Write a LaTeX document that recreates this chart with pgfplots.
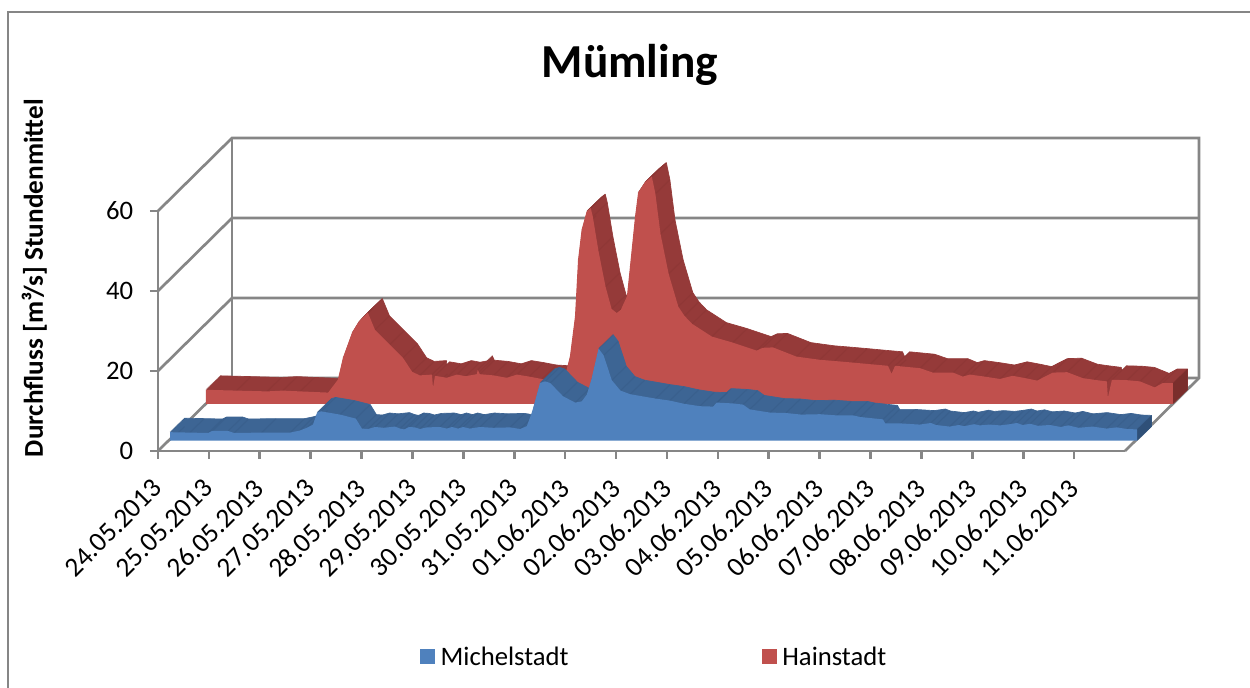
\documentclass[border=0pt]{standalone}
\usepackage{fontspec}
\setmainfont{Carlito}
\usepackage{pgfplots}
\usepackage{pgfplotstable}
\pgfplotsset{compat=1.18}

\definecolor{gridc}{HTML}{868686}
\definecolor{redface}{HTML}{C0504D}
\definecolor{redband}{HTML}{953A39}
\definecolor{redcap}{HTML}{7A2E2C}
\definecolor{blueface}{HTML}{4F81BD}
\definecolor{blueband}{HTML}{3D6594}
\definecolor{bluecap}{HTML}{2F5078}

% hourly means, read off the front edge of each area
\pgfplotstableread{
d q
0.00 0
0.00 2.1
0.39 2.0
0.75 1.9
0.83 2.4
1.14 2.4
1.26 1.9
1.80 2.0
2.36 2.0
2.55 2.5
2.69 3.2
2.81 4.0
2.89 7.0
2.97 7.3
3.34 6.5
3.65 5.5
3.77 3.0
3.89 2.9
4.03 3.4
4.20 3.2
4.42 3.5
4.52 3.0
4.60 2.8
4.70 3.4
4.81 3.3
4.91 2.9
5.05 3.3
5.30 3.4
5.44 3.0
5.54 3.4
5.66 3.0
5.76 3.4
5.89 3.0
6.09 3.4
6.35 3.2
6.68 3.3
6.88 2.9
7.01 3.6
7.11 7.0
7.27 14.4
7.37 14.8
7.47 14.4
7.72 11.1
7.96 9.5
8.09 9.8
8.19 11.5
8.28 15.3
8.42 23.0
8.52 21.3
8.68 15.1
8.85 12.5
9.04 11.6
9.54 10.5
9.82 10.0
10.10 9.2
10.41 8.6
10.67 8.5
10.74 9.5
11.05 9.3
11.26 9.0
11.39 7.8
11.79 7.0
12.10 6.9
12.40 6.5
12.77 6.6
13.10 6.3
13.42 6.3
13.56 5.9
14.01 5.3
14.05 4.3
14.35 4.3
14.73 4.0
14.95 4.4
15.05 3.9
15.32 3.5
15.50 3.9
15.60 3.6
15.80 4.1
15.91 3.8
16.10 4.0
16.31 3.8
16.50 4.1
16.64 4.4
16.75 3.9
16.90 4.2
17.05 3.7
17.29 3.9
17.50 3.4
17.65 3.8
17.85 3.2
18.13 3.5
18.40 3.0
18.60 3.3
18.80 2.9
19.00 2.8
19.00 0
}\michelstadt

\pgfplotstableread{
d q
0.00 0
0.00 3.5
0.60 3.3
1.20 3.1
1.51 3.3
1.85 3.1
2.40 2.8
2.59 6.0
2.69 11.5
2.87 17.8
2.99 20.3
3.18 22.8
3.32 18.5
3.61 14.8
3.87 11.5
4.05 8.0
4.20 7.1
4.44 7.3
4.46 4.0
4.50 7.0
4.73 6.5
4.93 7.3
5.10 6.9
5.32 7.4
5.34 8.5
5.38 7.4
5.65 7.1
5.91 6.5
6.11 7.3
6.35 6.8
6.60 6.2
6.86 6.0
7.01 6.0
7.05 6.8
7.15 11.8
7.25 21.8
7.31 36.0
7.38 43.5
7.48 48.1
7.56 48.9
7.60 46.8
7.71 38.3
7.85 29.3
7.97 23.7
8.07 22.7
8.15 23.5
8.27 26.8
8.33 34.3
8.43 46.8
8.49 52.8
8.62 55.3
8.76 56.8
8.83 52.5
8.93 42.5
9.09 32.5
9.28 24.3
9.40 22.0
9.55 20.0
9.94 16.8
10.35 15.3
10.82 13.3
10.94 14.0
11.14 14.1
11.60 11.8
12.06 11.0
12.35 10.7
12.71 10.3
13.05 9.9
13.40 9.5
13.47 7.5
13.54 9.5
14.03 8.9
14.28 7.8
14.68 7.8
14.87 6.8
15.01 7.3
15.30 6.8
15.60 6.2
15.85 7.0
16.10 6.4
16.33 5.8
16.64 7.8
16.92 7.9
17.23 6.4
17.45 6.0
17.70 5.6
17.72 1.5
17.80 6.0
18.10 5.9
18.35 5.6
18.64 4.1
18.80 5.2
19.00 5.2
19.00 0
}\hainstadt

\begin{document}
\begin{tikzpicture}
\path[use as bounding box] (-118.5pt,-177.75pt) rectangle (819pt,338.25pt);
\draw[gridc,line width=1.1pt] (-112.5pt,-177.75pt) -- (-112.5pt,329.25pt) -- (819pt,329.25pt);
\begin{axis}[
    scale only axis,
    width=725.25pt, height=180pt,
    xmin=0, xmax=19, ymin=0, ymax=60,
    clip=false,
    axis x line=bottom, axis y line=left,
    axis line style={-,draw=gridc,line width=2pt},
    tick style={draw=gridc,line width=2pt},
    tick align=outside,
    major tick length=6pt,
    xtick={0,...,18},
    xticklabels={24.05.2013,25.05.2013,26.05.2013,27.05.2013,28.05.2013,29.05.2013,30.05.2013,31.05.2013,01.06.2013,02.06.2013,03.06.2013,04.06.2013,05.06.2013,06.06.2013,07.06.2013,08.06.2013,09.06.2013,10.06.2013,11.06.2013},
    ytick={0,20,40,60},
    xticklabel style={rotate=45,anchor=north east,font=\fontsize{20.5}{20.5}\selectfont,inner sep=1pt,yshift=-4.8pt,xshift=-12.4pt},
    yticklabel style={font=\fontsize{20}{20}\selectfont,/pgf/number format/assume math mode=true,inner sep=2pt,xshift=-10.5pt},
    title={Mümling},
    title style={at={(0.488,1.574)},anchor=center,font=\fontsize{35.5}{36}\selectfont\bfseries},
    ylabel={Durchfluss [m³/s] Stundenmittel},
    ylabel style={at={(-0.128,0.72)},anchor=center,font=\fontsize{20.4}{21}\selectfont\bfseries},
    legend style={at={(0.271,-0.858)},anchor=west,draw=none,fill=none,inner sep=0pt,
        font=\fontsize{20}{20}\selectfont,legend columns=2,
        /tikz/every even column/.append style={column sep=143pt}},
    legend image code/.code={\fill[#1] (0pt,-5.6pt) rectangle (11.25pt,5.6pt);},
]
\addlegendimage{fill=blueface,draw=none}
\addlegendentry{\hspace{2pt}Michelstadt}
\addlegendimage{fill=redface,draw=none}
\addlegendentry{\hspace{2pt}Hainstadt}

% walls of the box
\addplot[forget plot,gridc,line width=2pt] coordinates {(0,60) (1.4538,78.25) (20.4538,78.25) (20.4538,18.25) (19,0)};
\addplot[forget plot,gridc,line width=2pt] coordinates {(0,0) (1.4538,18.25) (20.4538,18.25)};
\addplot[forget plot,gridc,line width=2pt] coordinates {(1.4538,18.25) (1.4538,78.25)};
\addplot[forget plot,gridc,line width=2pt] coordinates {(0,20) (1.4538,38.25) (20.4538,38.25)};
\addplot[forget plot,gridc,line width=2pt] coordinates {(0,40) (1.4538,58.25) (20.4538,58.25)};

% Hainstadt: depth band as shifted copies, back to front
\pgfplotsinvokeforeach{15,14,...,1}{
  \addplot[forget plot,fill=redband,draw=redband,line width=0.5pt,line join=round]
    table[x expr=\thisrow{d}+0.943+#1*0.019,y expr=\thisrow{q}+11.8+#1*0.2333] {\hainstadt} -- cycle;
}
\addplot[forget plot,quiver={u=0.285,v=3.5},draw=redcap,line width=0.8pt,opacity=0.22]
    table[x expr=\thisrow{d}+0.943,y expr=\thisrow{q}+11.8] {\hainstadt};
\addplot[forget plot,fill=redcap,draw=none] coordinates {(19.943,11.8) (20.228,15.3) (20.228,20.5) (19.943,17.0)} -- cycle;
\addplot[forget plot,fill=redface,draw=none] table[x expr=\thisrow{d}+0.943,y expr=\thisrow{q}+11.8] {\hainstadt} -- cycle;

% Michelstadt
\pgfplotsinvokeforeach{15,14,...,1}{
  \addplot[forget plot,fill=blueband,draw=blueband,line width=0.5pt,line join=round]
    table[x expr=\thisrow{d}+0.236+#1*0.019,y expr=\thisrow{q}+2.6+#1*0.2333] {\michelstadt} -- cycle;
}
\addplot[forget plot,quiver={u=0.285,v=3.5},draw=bluecap,line width=0.8pt,opacity=0.22]
    table[x expr=\thisrow{d}+0.236,y expr=\thisrow{q}+2.6] {\michelstadt};
\addplot[forget plot,fill=bluecap,draw=none] coordinates {(19.236,2.6) (19.521,6.1) (19.521,8.9) (19.236,5.4)} -- cycle;
\addplot[forget plot,fill=blueface,draw=none] table[x expr=\thisrow{d}+0.236,y expr=\thisrow{q}+2.6] {\michelstadt} -- cycle;
\end{axis}
\end{tikzpicture}
\end{document}
